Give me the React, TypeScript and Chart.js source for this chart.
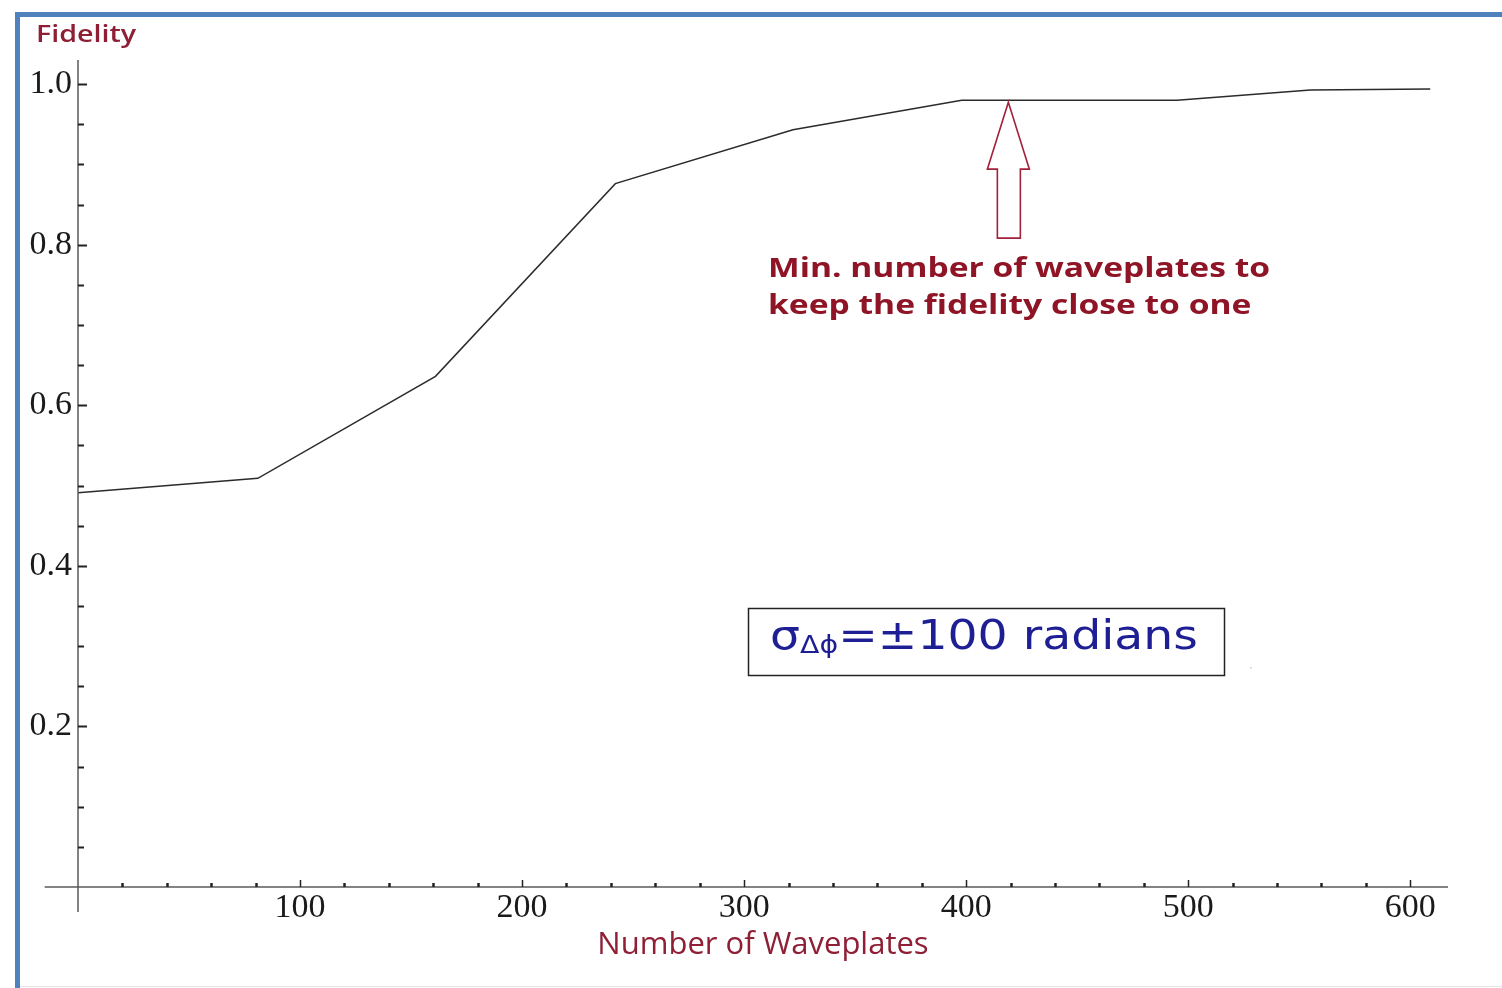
import React, { useEffect, useRef } from "react";
import { Chart, registerables } from "chart.js";

Chart.register(...registerables);

// ---- data ----
const waveplates = [0, 81, 161, 242, 322, 398, 495, 555, 609];
const fidelity = [0.491, 0.509, 0.636, 0.876, 0.943, 0.98, 0.98, 0.9925, 0.994];
const xMajorTicks = [100, 200, 300, 400, 500, 600];
const yMajorTicks = [0.2, 0.4, 0.6, 0.8, 1.0];
const xMinorStep = 20;
const yMinorStep = 0.05;
const xTitle = "Number of Waveplates";
const yTitle = "Fidelity";
const noteLines = ["Min. number of waveplates to", "keep the fidelity close to one"];
const arrowTarget = { x: 419, y: 0.98 };
const boxSigma = "σ";
const boxSub = "Δϕ";
const boxRest = "=±100 radians";

const W = 1502;
const H = 988;

function stretchText(ctx: CanvasRenderingContext2D, text: string, x: number, y: number, font: string, scaleX: number) {
  ctx.save();
  ctx.font = font;
  ctx.textAlign = "left";
  ctx.textBaseline = "alphabetic";
  ctx.translate(x, y);
  ctx.scale(scaleX, 1);
  ctx.fillText(text, 0, 0);
  ctx.restore();
}

const decorPlugin = {
  id: "decor",
  beforeDraw(chart: any) {
    const ctx = chart.ctx as CanvasRenderingContext2D;
    ctx.save();
    ctx.fillStyle = "#ffffff";
    ctx.fillRect(0, 0, W, H);
    // outer blue frame (top + left)
    ctx.fillStyle = "#4f81bd";
    ctx.fillRect(15, 12, W - 15, 5);
    ctx.fillRect(15, 12, 5, H - 12);
    ctx.fillStyle = "#e4e4e4";
    ctx.fillRect(20, H - 2, W - 20, 1);
    ctx.restore();
  },
  afterDatasetsDraw(chart: any) {
    const ctx = chart.ctx as CanvasRenderingContext2D;
    const xs = chart.scales.x;
    const ys = chart.scales.y;
    const x0 = xs.getPixelForValue(0);
    const y0 = ys.getPixelForValue(0);
    ctx.save();
    // axis lines
    ctx.strokeStyle = "#5a5a5a";
    ctx.lineWidth = 1.5;
    ctx.beginPath();
    ctx.moveTo(xs.getPixelForValue(-15), y0);
    ctx.lineTo(xs.right, y0);
    ctx.stroke();
    ctx.beginPath();
    ctx.moveTo(x0, ys.top);
    ctx.lineTo(x0, ys.getPixelForValue(-0.031));
    ctx.stroke();

    // x ticks (inward, upward)
    ctx.strokeStyle = "#222";
    for (let i = 1; i * xMinorStep <= xs.max; i++) {
      const v = i * xMinorStep;
      const major = xMajorTicks.includes(v);
      const px = Math.round(xs.getPixelForValue(v)) + 0.5;
      ctx.lineWidth = major ? 1.5 : 2.5;
      ctx.beginPath();
      ctx.moveTo(px, y0);
      ctx.lineTo(px, y0 - (major ? 7 : 4));
      ctx.stroke();
    }
    // y ticks (inward, to the right)
    for (let i = 1; i * yMinorStep <= ys.max + 1e-9; i++) {
      const v = i * yMinorStep;
      const major = yMajorTicks.some((t) => Math.abs(t - v) < 1e-9);
      const py = Math.round(ys.getPixelForValue(v)) + 0.5;
      ctx.lineWidth = 2;
      ctx.beginPath();
      ctx.moveTo(x0, py);
      ctx.lineTo(x0 + (major ? 9 : 6), py);
      ctx.stroke();
    }
    ctx.restore();
  },
  afterDraw(chart: any) {
    const ctx = chart.ctx as CanvasRenderingContext2D;
    const xs = chart.scales.x;
    const ys = chart.scales.y;
    ctx.save();

    // "Fidelity" label at top-left
    ctx.fillStyle = "#8e1f35";
    {
      const font = "600 23px 'Open Sans'";
      ctx.font = font;
      const w = ctx.measureText(yTitle).width;
      stretchText(ctx, yTitle, 36, 42, font, 100 / w);
    }

    // arrow (outline) pointing to the knee of the curve
    const tx = xs.getPixelForValue(arrowTarget.x);
    const ty = ys.getPixelForValue(arrowTarget.y) + 2;
    ctx.strokeStyle = "#a3213b";
    ctx.lineWidth = 1.6;
    ctx.beginPath();
    ctx.moveTo(tx, ty);
    ctx.lineTo(tx + 21, ty + 67);
    ctx.lineTo(tx + 12, ty + 67);
    ctx.lineTo(tx + 12, ty + 136);
    ctx.lineTo(tx - 11, ty + 136);
    ctx.lineTo(tx - 11, ty + 67);
    ctx.lineTo(tx - 21, ty + 67);
    ctx.closePath();
    ctx.stroke();

    // annotation text
    ctx.fillStyle = "#8e1426";
    {
      const font = "bold 26px 'Open Sans'";
      ctx.font = font;
      const w1 = ctx.measureText(noteLines[0]).width;
      const s = 502 / w1;
      stretchText(ctx, noteLines[0], 768, 277, font, s);
      stretchText(ctx, noteLines[1], 768, 314, font, s);
    }

    // boxed sigma label
    ctx.strokeStyle = "#222";
    ctx.lineWidth = 1.5;
    ctx.strokeRect(748.5, 608.5, 476, 67);
    {
      const fBig = "40px 'DejaVu Sans'";
      const fSub = "24px 'DejaVu Sans'";
      ctx.font = fBig;
      const wSig = ctx.measureText(boxSigma).width;
      const wRest = ctx.measureText(boxRest).width;
      ctx.font = fSub;
      const wSub = ctx.measureText(boxSub).width;
      const total = wSig + wSub + wRest;
      const s = 428 / total;
      ctx.fillStyle = "#1f1f95";
      let cx = 770;
      stretchText(ctx, boxSigma, cx, 649, fBig, s);
      cx += wSig * s;
      stretchText(ctx, boxSub, cx, 653, fSub, s);
      cx += wSub * s;
      stretchText(ctx, boxRest, cx, 649, fBig, s);
    }
    ctx.fillStyle = "#c8c8c8";
    ctx.fillRect(1250, 667, 1.5, 1.5);
    ctx.restore();
  },
};

export default function App() {
  const canvasRef = useRef<HTMLCanvasElement | null>(null);

  useEffect(() => {
    const canvas = canvasRef.current;
    if (!canvas) return;
    const chart = new Chart(canvas, {
      type: "scatter",
      data: {
        datasets: [
          {
            label: "Fidelity",
            data: waveplates.map((v, i) => ({ x: v, y: fidelity[i] })),
            showLine: true,
            borderColor: "#2b2b2b",
            borderWidth: 1.5,
            pointRadius: 0,
            tension: 0,
          },
        ],
      },
      options: {
        animation: false,
        responsive: false,
        maintainAspectRatio: false,
        layout: { padding: { left: 0, right: 54, top: 60, bottom: 0 } },
        plugins: {
          legend: { display: false },
          tooltip: { enabled: false },
          title: { display: false },
        },
        scales: {
          x: {
            type: "linear",
            min: 0,
            max: 617,
            grid: { display: false, drawTicks: false },
            border: { display: false },
            afterBuildTicks: (scale: any) => {
              scale.ticks = xMajorTicks.map((v) => ({ value: v }));
            },
            afterFit: (scale: any) => {
              scale.height = 101;
            },
            ticks: {
              autoSkip: false,
              maxRotation: 0,
              padding: 1,
              color: "#1a1a1a",
              font: { family: "'Liberation Serif', serif", size: 34 },
              callback: (v: any) => String(v),
            },
            title: {
              display: true,
              text: xTitle,
              color: "#8e1f35",
              font: { family: "'Open Sans'", size: 31 },
              padding: { top: 0, bottom: 24 },
            },
          },
          y: {
            type: "linear",
            min: 0,
            max: 1.03,
            grid: { display: false, drawTicks: false },
            border: { display: false },
            afterBuildTicks: (scale: any) => {
              scale.ticks = yMajorTicks.map((v) => ({ value: v }));
            },
            afterFit: (scale: any) => {
              scale.width = 78;
            },
            ticks: {
              autoSkip: false,
              padding: 6,
              color: "#1a1a1a",
              font: { family: "'Liberation Serif', serif", size: 34 },
              callback: (v: any) => Number(v).toFixed(1),
            },
          },
        },
      },
      plugins: [decorPlugin],
    });
    return () => chart.destroy();
  }, []);

  return (
    <div style={{ position: "fixed", left: 0, top: 0, width: W, height: H, background: "#fff" }}>
      <canvas ref={canvasRef} width={W} height={H} style={{ display: "block", width: W, height: H }} />
    </div>
  );
}
